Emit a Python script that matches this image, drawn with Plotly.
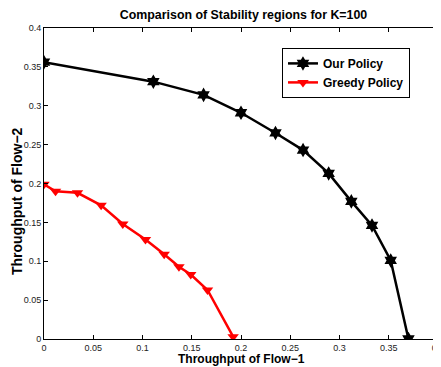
import plotly.graph_objects as go

our_x = [0.0, 0.111, 0.162, 0.200, 0.235, 0.263, 0.289, 0.312, 0.333, 0.352, 0.370]
our_y = [0.356, 0.331, 0.314, 0.291, 0.265, 0.243, 0.213, 0.177, 0.146, 0.101, 0.0]

greedy_x = [0.0, 0.0117, 0.034, 0.058, 0.080, 0.103, 0.122, 0.137, 0.149, 0.166, 0.192]
greedy_y = [0.199, 0.190, 0.188, 0.172, 0.148, 0.128, 0.109, 0.093, 0.083, 0.063, 0.003]

x_ticks = [0, 0.05, 0.1, 0.15, 0.2, 0.25, 0.3, 0.35, 0.4]
x_labels = ["0", "0.05", "0.1", "0.15", "0.2", "0.25", "0.3", "0.35", "0.4"]
y_ticks = [0, 0.05, 0.1, 0.15, 0.2, 0.25, 0.3, 0.35, 0.4]
y_labels = ["0", "0.05", "0.1", "0.15", "0.2", "0.25", "0.3", "0.35", "0.4"]

FONT = "Liberation Sans, Arial"

fig = go.Figure()
fig.add_trace(go.Scatter(x=our_x, y=our_y, mode="lines+markers", name="<b>Our Policy</b>",
                         line=dict(color="black", width=2.5),
                         marker=dict(symbol="hexagram", size=11, color="black")))
fig.add_trace(go.Scatter(x=greedy_x, y=greedy_y, mode="lines+markers", name="<b>Greedy Policy</b>",
                         line=dict(color="#ff0000", width=2.5),
                         marker=dict(symbol="triangle-down", size=10, color="#ff0000")))

axis_common = dict(showgrid=False, zeroline=False, showline=True, linecolor="black", linewidth=1,
                   mirror="ticks", ticks="inside", ticklen=4, tickcolor="black", automargin=False,
                   ticklabeloverflow="allow",
                   tickfont=dict(family=FONT, size=9, color="#222"))
fig.update_layout(
    width=433, height=359,
    margin=dict(l=36, r=3, t=20, b=28),
    paper_bgcolor="white", plot_bgcolor="white",
    title=dict(text="<b>Comparison of Stability regions for K=100</b>", x=0.5439, xanchor="center",
               xref="container", yref="container", y=0.9805, yanchor="middle",
               font=dict(family=FONT, size=12.4, color="black")),
    xaxis=dict(range=[0, 0.4], tickvals=x_ticks, ticktext=x_labels, **axis_common),
    yaxis=dict(range=[0, 0.4], tickvals=y_ticks, ticktext=y_labels, **axis_common),
    legend=dict(x=0.604, y=0.936, xanchor="left", yanchor="top", bgcolor="white",
                bordercolor="black", borderwidth=1, tracegroupgap=0,
                font=dict(family=FONT, size=12, color="black"),
                itemwidth=30),
    showlegend=True,
    annotations=[
        dict(text="<b>Throughput of Flow\u22121</b>", xref="paper", yref="paper", x=0.5, y=0,
             xanchor="center", yanchor="middle", yshift=-20, showarrow=False,
             font=dict(family=FONT, size=12, color="black")),
        dict(text="<b>Throughput of Flow\u22122</b>", xref="paper", yref="paper", x=0, y=0.4437,
             xanchor="center", yanchor="middle", xshift=-27, textangle=-90, showarrow=False,
             font=dict(family=FONT, size=14, color="black")),
    ],
)
fig.write_html("out.html")
